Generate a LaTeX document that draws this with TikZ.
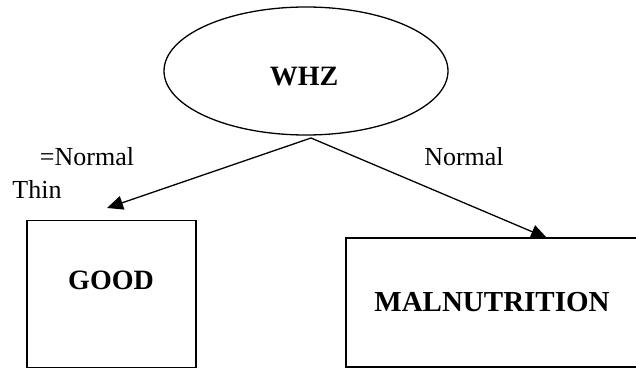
\documentclass[tikz,border=0pt]{standalone}
\usepackage{fontspec}
\setmainfont{Liberation Serif}
\usetikzlibrary{shapes.geometric,arrows.meta}
\begin{document}
\begin{tikzpicture}[x=1pt,y=-1pt,
  line width=1.3pt,
  boxstyle/.style={draw,rectangle,inner sep=0pt},
  bigtext/.style={font=\fontsize{28}{32}\selectfont\bfseries},
  lbl/.style={font=\fontsize{26}{30}\selectfont,inner sep=0pt},
  arr/.style={-{Triangle[length=16pt,width=14pt]}}]
\useasboundingbox (0,0) rectangle (636,369);
\node[draw,ellipse,minimum width=284pt,minimum height=128pt,inner sep=0pt] (whz) at (306,71) {};
\node[bigtext] (whzt) at (304,77) {WHZ};
\node[boxstyle,minimum width=169pt,minimum height=147pt] (good) at (111.5,294) {};
\node[bigtext] (goodt) at (111,280) {GOOD};
\node[boxstyle,minimum width=296pt,minimum height=129pt] (mal) at (494,302.5) {};
\node[bigtext,font=\fontsize{29}{33}\selectfont\bfseries] (malt) at (492,302) {MALNUTRITION};
\coordinate (apex) at (311,138);
\coordinate (lend) at (107,208);
\coordinate (rend) at (547,238);
\draw[arr] (apex) -- (lend);
\draw[arr] (apex) -- (rend);
\node[lbl] (eqn) at (87,157) {=Normal};
\node[lbl] (thin) at (37,189) {Thin};
\node[lbl] (norm) at (464,157) {Normal};
\end{tikzpicture}
\end{document}
